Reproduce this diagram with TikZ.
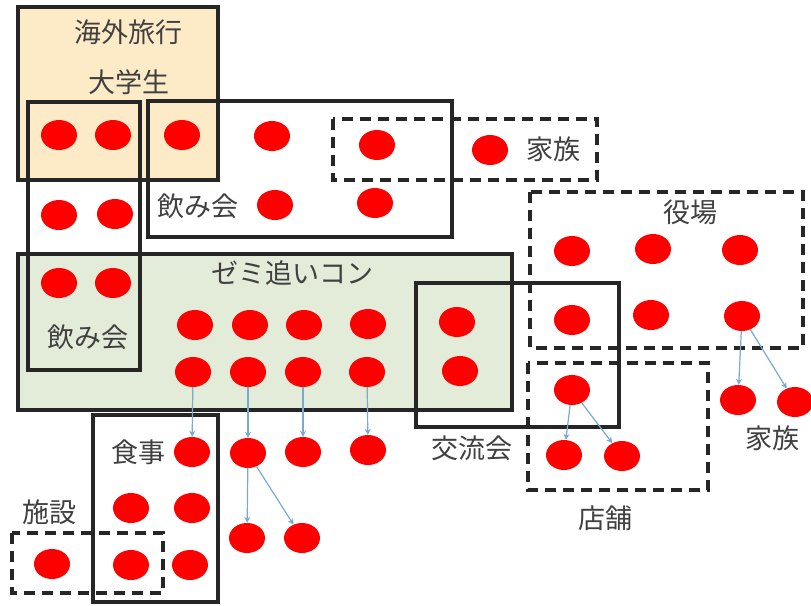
\documentclass[tikz,border=0pt]{standalone}
\usepackage{fontspec}
\newfontfamily\jp{Noto Sans CJK JP}
\usetikzlibrary{shapes.geometric,arrows.meta}
\definecolor{orfill}{RGB}{253,235,200}
\definecolor{grfill}{RGB}{226,236,216}
\definecolor{txtgray}{RGB}{64,64,64}
\definecolor{arrblue}{RGB}{120,170,210}
\tikzset{
  dot/.style={ellipse,fill=red,draw=none,minimum width=36pt,minimum height=30pt,inner sep=0pt},
  solidbox/.style={draw=black!85,line width=3.2pt},
  dashbox/.style={draw=black!85,line width=3.2pt,dash pattern=on 11pt off 7pt},
  lbl/.style={font=\jp\fontsize{27}{31}\selectfont,text=txtgray,inner sep=0pt},
  arr/.style={draw=arrblue,line width=1.2pt,-{Stealth[length=6pt,width=6pt]}}
}
\begin{document}
\begin{tikzpicture}[x=1pt,y=-1pt]
\fill[white] (0,0) rectangle (811,605);
\useasboundingbox (0,0) rectangle (811,605);
% fills
\fill[orfill] (18,7) rectangle (218,180);
\fill[grfill] (18,254) rectangle (512,410);
% outlines
\draw[solidbox] (18,7) rectangle (218,180);
\draw[solidbox] (18,254) rectangle (512,410);
\draw[solidbox] (28,102) rectangle (140,370);
\draw[solidbox] (148,101) rectangle (452,237);
\draw[dashbox] (333,119) rectangle (597,180);
\draw[dashbox] (530,192) rectangle (803,348);
\draw[solidbox] (416,283) rectangle (619,427);
\draw[dashbox] (528,363) rectangle (708,490);
\draw[solidbox] (93,415) rectangle (218,602);
\draw[dashbox] (12,533) rectangle (163,593);
% labels
\node[lbl] (t1) at (128,32) {海外旅行};
\node[lbl] (t2) at (129,82) {大学生};
\node[lbl] (t3) at (198,206) {飲み会};
\node[lbl] (t4) at (88,337) {飲み会};
\node[lbl] (t5) at (292,273) {ゼミ追いコン};
\node[lbl] (t6) at (553,149) {家族};
\node[lbl] (t7) at (690,212) {役場};
\node[lbl] (t8) at (138,452) {食事};
\node[lbl] (t9) at (50,512) {施設};
\node[lbl] (t10) at (472,448) {交流会};
\node[lbl] (t11) at (605,518) {店舗};
\node[lbl] (t12) at (772,438) {家族};
% dots
\node[dot] (a1) at (59,135) {};
\node[dot] (a2) at (113,135) {};
\node[dot] (a3) at (182,135) {};
\node[dot] (a4) at (272,136) {};
\node[dot] (a5) at (377,145) {};
\node[dot] (a6) at (490,150) {};
\node[dot] (b1) at (59,215) {};
\node[dot] (b2) at (115,214) {};
\node[dot] (b3) at (275,205) {};
\node[dot] (b4) at (375,203) {};
\node[dot] (c1) at (59,283) {};
\node[dot] (c2) at (113,283) {};
\node[dot] (g11) at (195,325) {};
\node[dot] (g12) at (250,325) {};
\node[dot] (g13) at (304,325) {};
\node[dot] (g14) at (368,324) {};
\node[dot] (g21) at (193,372) {};
\node[dot] (g22) at (248,372) {};
\node[dot] (g23) at (303,372) {};
\node[dot] (g24) at (367,372) {};
\node[dot] (k1) at (457,322) {};
\node[dot] (k2) at (460,371) {};
\node[dot] (y11) at (572,251) {};
\node[dot] (y12) at (653,249) {};
\node[dot] (y13) at (740,250) {};
\node[dot] (y21) at (572,320) {};
\node[dot] (y22) at (651,315) {};
\node[dot] (y23) at (742,316) {};
\node[dot] (f1) at (738,400) {};
\node[dot] (f2) at (795,402) {};
\node[dot] (s1) at (572,390) {};
\node[dot] (s2) at (564,455) {};
\node[dot] (s3) at (622,456) {};
\node[dot] (d1) at (192,452) {};
\node[dot] (d2) at (248,453) {};
\node[dot] (d3) at (303,452) {};
\node[dot] (d4) at (368,450) {};
\node[dot] (e1) at (247,538) {};
\node[dot] (e2) at (302,538) {};
\node[dot] (m1) at (131,508) {};
\node[dot] (m2) at (192,508) {};
\node[dot] (m3) at (131,565) {};
\node[dot] (m4) at (190,565) {};
\node[dot] (h1) at (52,564) {};
% arrows
\draw[arr] (g21) -- (d1);
\draw[arr] (g22) -- (d2);
\draw[arr] (g23) -- (d3);
\draw[arr] (g24) -- (d4);
\draw[arr] (d2) -- (e1);
\draw[arr] (d2) -- (e2);
\draw[arr] (y23) -- (f1);
\draw[arr] (y23) -- (f2);
\draw[arr] (s1) -- (s2);
\draw[arr] (s1) -- (s3);
\end{tikzpicture}
\end{document}
